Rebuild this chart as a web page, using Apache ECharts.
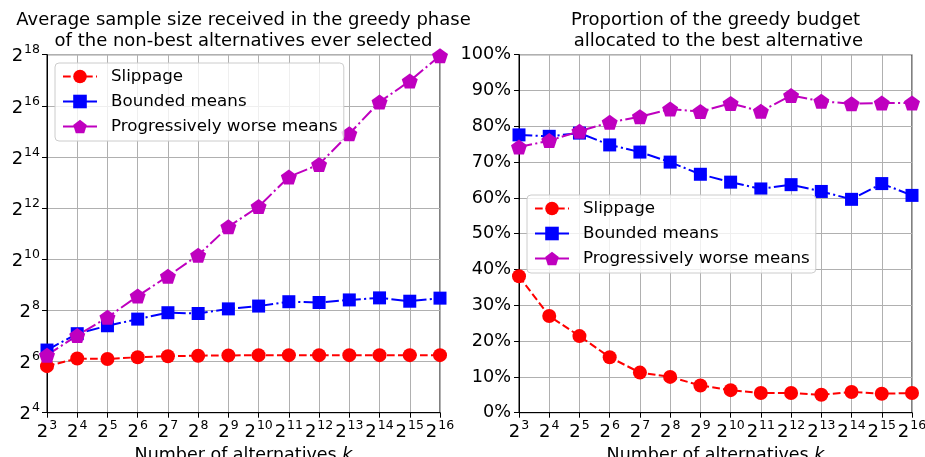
<!DOCTYPE html>
<html>
<head>
<meta charset="utf-8">
<script src="https://cdn.jsdelivr.net/npm/echarts@6/dist/echarts.min.js"></script>
<style>
  html, body { margin: 0; padding: 0; background: #fff; }
  #chart { width: 925px; height: 457px; }
</style>
</head>
<body>
<div id="chart"></div>
<script>
// x: number of alternatives k = 2^3 ... 2^16 (stored as exponents)
const kExp = [3, 4, 5, 6, 7, 8, 9, 10, 11, 12, 13, 14, 15, 16];

// left chart: log2 of average sample size
const slippageLog2 = [5.82, 6.12, 6.10, 6.17, 6.21, 6.23, 6.24, 6.25, 6.25, 6.25, 6.25, 6.25, 6.25, 6.25];
const boundedLog2 = [6.45, 7.09, 7.40, 7.66, 7.91, 7.88, 8.06, 8.17, 8.34, 8.31, 8.41, 8.49, 8.36, 8.48];
const worseLog2 = [6.25, 7.02, 7.73, 8.56, 9.34, 10.16, 11.27, 12.06, 13.22, 13.71, 14.91, 16.15, 16.97, 17.96];

// right chart: proportion of greedy budget to best alternative (%)
const slippagePct = [38.1, 27.0, 21.4, 15.5, 11.2, 10.0, 7.6, 6.3, 5.5, 5.5, 5.0, 5.8, 5.3, 5.5];
const boundedPct = [77.6, 77.2, 78.1, 74.8, 72.8, 70.0, 66.6, 64.4, 62.5, 63.7, 61.8, 59.6, 64.0, 60.7];
const worsePct = [74.2, 76.0, 78.6, 81.1, 82.7, 84.8, 84.1, 86.4, 84.2, 88.6, 87.0, 86.3, 86.5, 86.5];

const seriesNames = ["Slippage", "Bounded means", "Progressively worse means"];

let myChart = echarts.init(document.getElementById("chart"))

const font = "DejaVu Sans"
const pentagon = "path://M0,-1L0.951,-0.309L0.588,0.809L-0.588,0.809L-0.951,-0.309Z"

// matplotlib-like dash patterns for lw 1.5
const dashed = [7.7, 3.3]
const dashDot = [13.3, 3.3, 2.1, 3.3]

const styles = [
    { color: "#ff0000", symbol: "circle", symbolSize: 14, dash: dashed },
    { color: "#0000ff", symbol: "rect", symbolSize: 13, dash: dashDot },
    { color: "#bf00bf", symbol: pentagon, symbolSize: [16, 15], dash: dashDot }
]

function pow2Label(v) {
    return "{b|2}{s|" + v + "}"
}
const powRich = {
    b: { fontSize: 18, fontFamily: font, color: "#000", verticalAlign: "bottom" },
    s: { fontSize: 12.5, fontFamily: font, color: "#000", verticalAlign: "top", padding: [0, 0, 9, 1] }
}

function xAxisFor(gridIndex) {
    return {
        type: "value",
        gridIndex: gridIndex,
        min: 3, max: 16, interval: 1,
        name: "Number of alternatives {i|k}",
        nameLocation: "middle",
        nameGap: 29,
        nameTextStyle: {
            fontSize: 17.5, fontFamily: font, color: "#000",
            rich: { i: { fontSize: 17.5, fontFamily: font, fontStyle: "italic", color: "#000" } }
        },
        axisLine: { lineStyle: { color: "#000", width: 1 } },
        axisTick: { show: true, length: 5, lineStyle: { color: "#000", width: 1 } },
        axisLabel: { formatter: pow2Label, rich: powRich, margin: 7 },
        splitLine: { show: true, lineStyle: { color: "#b0b0b0", width: 1 } }
    }
}

function makeSeries(xi, yi, values) {
    return values.map((arr, i) => ({
        type: "line",
        name: seriesNames[i],
        xAxisIndex: xi,
        yAxisIndex: yi,
        data: kExp.map((k, j) => [k, arr[j]]),
        symbol: styles[i].symbol,
        symbolSize: styles[i].symbolSize,
        showAllSymbol: true,
        clip: true,
        itemStyle: { color: styles[i].color },
        lineStyle: { color: styles[i].color, width: 2, type: styles[i].dash },
        emphasis: { disabled: true },
        animation: false
    }))
}

function legendAt(left, top) {
    return {
        orient: "vertical",
        left: left, top: top,
        data: seriesNames,
        itemWidth: 34,
        itemHeight: 17,
        itemGap: 8,
        padding: [5, 6, 6, 7],
        backgroundColor: "rgba(255,255,255,0.8)",
        borderColor: "#cccccc",
        borderWidth: 1,
        borderRadius: 4,
        selectedMode: false,
        textStyle: { fontSize: 16.7, fontFamily: font, color: "#000", lineHeight: 17, padding: [0, 0, 0, 9] }
    }
}

const titleStyle = { fontSize: 18, fontWeight: "normal", fontFamily: font, color: "#000", lineHeight: 21 }

myChart.setOption({
    animation: false,
    title: [
        {
            text: "Average sample size received in the greedy phase\nof the non-best alternatives ever selected",
            left: 243.5, top: 10, textAlign: "center", padding: 0,
            textStyle: titleStyle
        },
        {
            text: "Proportion of the greedy budget\n allocated to the best alternative",
            left: 715.5, top: 10, textAlign: "center", padding: 0,
            textStyle: titleStyle
        }
    ],
    grid: [
        { left: 47, top: 54.7, width: 393, height: 358, outerBoundsMode: "none", containLabel: false, show: true, borderColor: "#000", borderWidth: 1, backgroundColor: "transparent" },
        { left: 519, top: 54.7, width: 393, height: 358, outerBoundsMode: "none", containLabel: false, show: true, borderColor: "#000", borderWidth: 1, backgroundColor: "transparent" }
    ],
    legend: [legendAt(55, 63), legendAt(527, 195)],
    xAxis: [xAxisFor(0), xAxisFor(1)],
    yAxis: [
        {
            type: "value", gridIndex: 0,
            min: 4, max: 18, interval: 2,
            axisLine: { show: true, lineStyle: { color: "#000", width: 1 } },
            axisTick: { show: true, length: 5, lineStyle: { color: "#000", width: 1 } },
            axisLabel: { formatter: pow2Label, rich: powRich, margin: 7 },
            splitLine: { show: true, lineStyle: { color: "#b0b0b0", width: 1 } }
        },
        {
            type: "value", gridIndex: 1,
            min: 0, max: 100, interval: 10,
            axisLine: { show: true, lineStyle: { color: "#000", width: 1 } },
            axisTick: { show: true, length: 5, lineStyle: { color: "#000", width: 1 } },
            axisLabel: { formatter: "{value}%", fontSize: 17.7, fontFamily: font, color: "#000", margin: 8 },
            splitLine: { show: true, lineStyle: { color: "#b0b0b0", width: 1 } }
        }
    ],
    series: [
        ...makeSeries(0, 0, [slippageLog2, boundedLog2, worseLog2]),
        ...makeSeries(1, 1, [slippagePct, boundedPct, worsePct])
    ]
})
</script>
</body>
</html>
